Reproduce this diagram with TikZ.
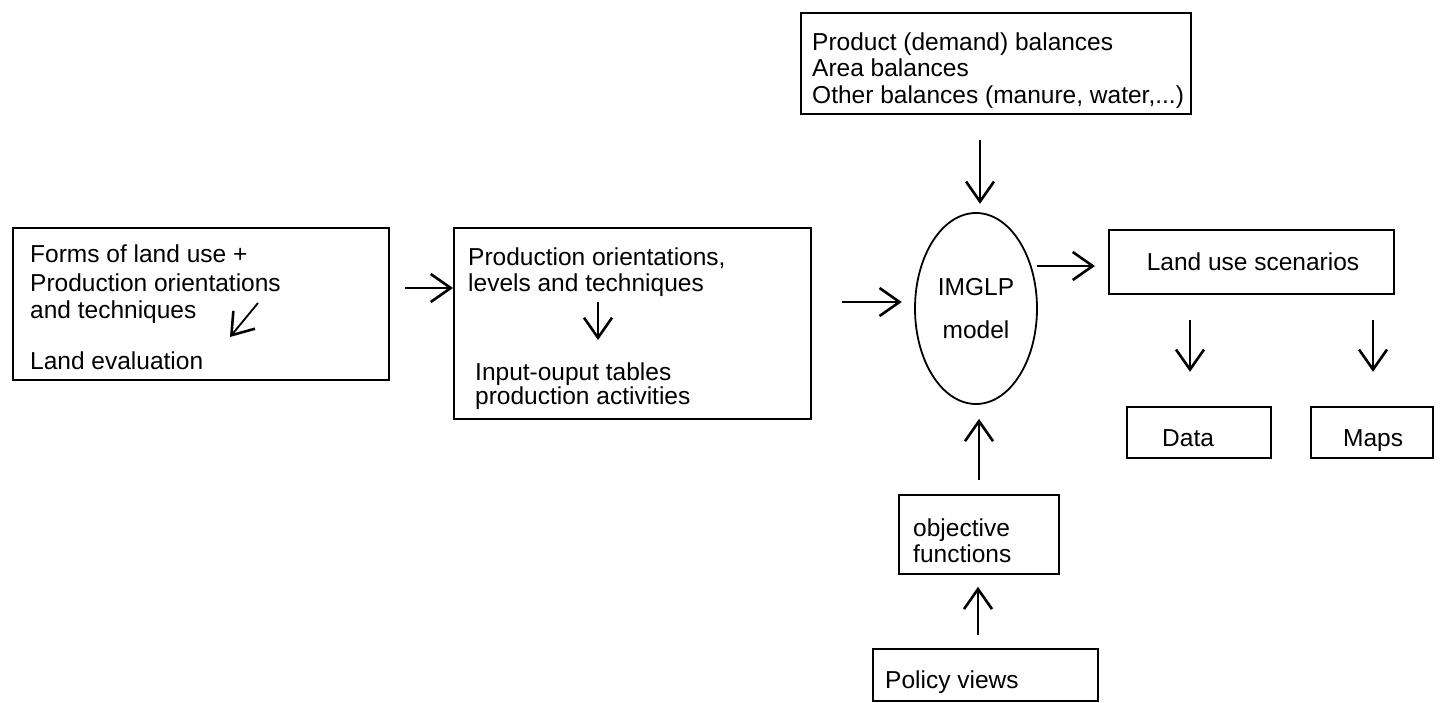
\documentclass[tikz,border=0pt]{standalone}
\usepackage{fontspec}
\setmainfont{Liberation Sans}
\usetikzlibrary{shapes.geometric,arrows.meta}
\begin{document}
\begin{tikzpicture}[x=1pt,y=-1pt,
  box/.style={draw, line width=1.8pt, inner sep=0pt},
  lbl/.style={font=\fontsize{24.5}{27.5}\selectfont, inner sep=0pt, anchor=base west},
  ctr/.style={font=\fontsize{24.5}{27.5}\selectfont, inner sep=0pt},
  arr/.style={line width=1.8pt, -{Straight Barb[length=20pt,width=28pt,line width=2.6pt]}}]
\useasboundingbox (0,0) rectangle (1440,703);

% land use / evaluation box
\node[box, anchor=north west, minimum width=376, minimum height=152] (b1) at (12,227) {};
\node[lbl] (b1a) at (30,263) {Forms of land use +};
\node[lbl] (b1b) at (30,291) {Production orientations};
\node[lbl] (b1c) at (30,318) {and techniques};
\node[lbl] (b1d) at (30,369) {Land evaluation};
\coordinate (d1s) at (258,303);
\coordinate (d1e) at (230,337);
\draw[arr] (d1s) -- (d1e);

% production box
\node[box, anchor=north west, minimum width=357, minimum height=191] (b2) at (453,227) {};
\node[lbl] (b2a) at (468,266) {Production orientations,};
\node[lbl] (b2b) at (468,291) {levels and techniques};
\node[lbl] (b2c) at (475,380) {Input-ouput tables};
\node[lbl] (b2d) at (475,404) {production activities};
\coordinate (d2s) at (598,302);
\coordinate (d2e) at (598,340);
\draw[arr] (d2s) -- (d2e);

% balances box
\node[box, anchor=north west, minimum width=390, minimum height=101] (bt) at (800,12) {};
\node[lbl] (bta) at (812,51) {Product (demand) balances};
\node[lbl] (btb) at (812,77) {Area balances};
\node[lbl] (btc) at (812,104) {Other balances (manure, water,...)};

% model
\node[draw, line width=1.8pt, ellipse, minimum width=122, minimum height=191, inner sep=0pt,
      align=center, font=\fontsize{24.5}{26}\selectfont] (m) at (976,308.5) {IMGLP\\[17pt]model};

% outputs
\node[box, anchor=north west, minimum width=285, minimum height=64] (lus) at (1108,229) {};
\node[ctr] (lust) at (1253,262) {Land use scenarios};
\node[box, anchor=north west, minimum width=144, minimum height=51] (data) at (1126,406) {};
\node[lbl] (datat) at (1162,446) {Data};
\node[box, anchor=north west, minimum width=122, minimum height=51] (maps) at (1310,406) {};
\node[lbl] (mapst) at (1343,446) {Maps};

% objectives and policy
\node[box, anchor=north west, minimum width=160, minimum height=79] (obj) at (898,494) {};
\node[lbl] (obja) at (913,536) {objective};
\node[lbl] (objb) at (913,562) {functions};
\node[box, anchor=north west, minimum width=225, minimum height=52] (pol) at (872,648) {};
\node[lbl] (pola) at (885,688) {Policy views};

% connectors
\draw[arr] (b1.east |- 0,288) ++(15,0) -- (b2.west |- 0,288);
\draw[arr] (b2.east |- 0,302) ++(30,0) -- ++(60,0);
\draw[arr] (bt.south -| 980,0) ++(0,25) -- ++(0,64);
\draw[arr] (m.east |- 0,266) ++(-1,0) -- ([xshift=-13pt]lus.west |- 0,266);
\draw[arr] (lus.south -| 1190,0) ++(0,25) -- ++(0,52);
\draw[arr] (lus.south -| 1373,0) ++(0,25) -- ++(0,52);
\draw[arr] (obj.north -| 979,0) ++(0,-14) -- ([yshift=-14pt]m.south -| 979,0);
\draw[arr] (pol.north -| 978,0) ++(0,-13) -- ([yshift=-12pt]obj.south -| 978,0);
\end{tikzpicture}
\end{document}
